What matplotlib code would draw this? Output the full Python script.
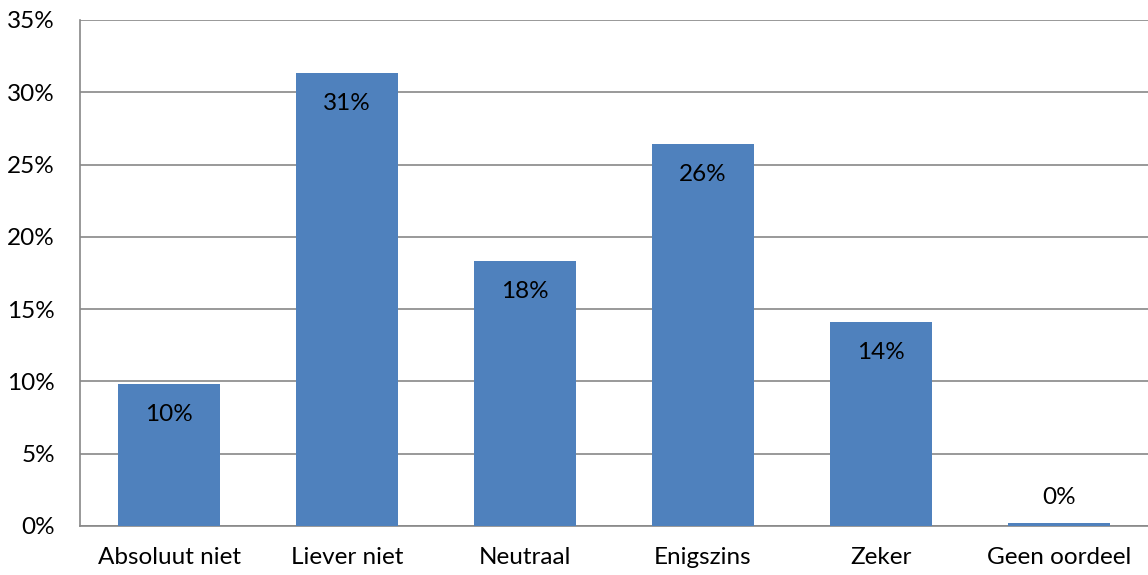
import numpy as np
import matplotlib.pyplot as plt
from matplotlib.ticker import PercentFormatter

categories = ["Absoluut niet", "Liever niet", "Neutraal", "Enigszins", "Zeker", "Geen oordeel"]
values = [9.8, 31.3, 18.3, 26.4, 14.1, 0.2]
labels = ["10%", "31%", "18%", "26%", "14%", "0%"]

plt.rcParams['font.family'] = ['Lato', 'DejaVu Sans']
fs = 17.5

fig = plt.figure(figsize=(11.48, 5.75), dpi=100)
ax = fig.add_axes([80 / 1148, 1 - 526 / 575, 1068 / 1148, 506 / 575])

x = np.arange(len(categories))
bars = ax.bar(x, values, width=0.57, color="#4F81BD", zorder=3)

# labels inside the bars, small ones above
for b, v, lab in zip(bars, values, labels):
    if v > 3:
        y = v - 2.1
    else:
        y = v + 1.75
    ax.text(b.get_x() + b.get_width() / 2, y, lab, ha="center", va="center",
            fontsize=fs, color="black", zorder=4)

ax.set_xlim(-0.5, len(categories) - 0.5)
ax.set_ylim(0, 35)
ax.set_yticks(np.arange(0, 36, 5))
ax.yaxis.set_major_formatter(PercentFormatter(decimals=0))
ax.set_xticks(x)
ax.set_xticklabels(categories)
ax.tick_params(axis="both", length=0, labelsize=fs, colors="black")
ax.tick_params(axis="y", pad=18)
ax.tick_params(axis="x", pad=15)

ax.grid(axis="y", color="#888888", linewidth=1.2, zorder=0)
for side in ["top", "right"]:
    ax.spines[side].set_visible(False)
for side in ["left", "bottom"]:
    ax.spines[side].set_color("#888888")
    ax.spines[side].set_linewidth(1.2)

fig.savefig("out.png", dpi=100)
